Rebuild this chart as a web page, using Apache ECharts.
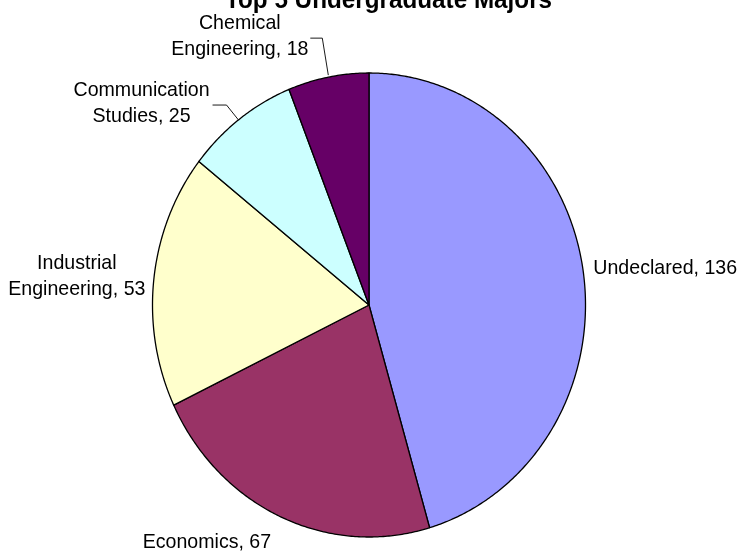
<!DOCTYPE html>
<html><head><meta charset="utf-8">
<script src="https://cdn.jsdelivr.net/npm/echarts@6/dist/echarts.min.js"></script>
<style>html,body{margin:0;padding:0;background:#fff}#c{width:739px;height:554px}</style>
</head><body><div id="c"></div>
<script>
// ---- data ----
const categories = ['Undeclared', 'Economics', 'Industrial Engineering', 'Communication Studies', 'Chemical Engineering'];
const values = [136, 67, 53, 25, 18];
const chartTitle = 'Top 5 Undergraduate Majors';

// ---- styles / layout ----
const sliceColors = ['#9999FF', '#993366', '#FFFFCC', '#CCFFFF', '#660066'];
const pieGeom = { cx: 369, cy: 305, rx: 216.5, ry: 232 };
const SX = 0.933; // horizontal squeeze of the original picture
// label placement relative to the slice's mid-point on the rim
const labelPlace = [
  { align: 'left',   dx: 10,   dy: -4 },
  { align: 'left',   dx: -138, dy: 25 },
  { align: 'center', dx: -77,  dy: -3 },
  { align: 'center', dx: -98,  dy: -15.5, leader: [[-27, -14], [-13, -14], [-1, 1]] },
  { align: 'center', dx: -88.5,dy: -41, leader: [[-18, -39], [-6, -39], [0, -2]] }
];
const FONT = '"Liberation Sans", Arial, sans-serif';

const total = values.reduce((a, b) => a + b, 0);
const cumStart = values.map((v, i) => values.slice(0, i).reduce((a, b) => a + b, 0));

function rim(t) {
  return [pieGeom.cx + pieGeom.rx * Math.sin(t), pieGeom.cy - pieGeom.ry * Math.cos(t)];
}

function renderItem(params, api) {
  const i = params.dataIndex;
  const v = api.value(0);
  const a0 = cumStart[i] / total * Math.PI * 2;
  const a1 = (cumStart[i] + v) / total * Math.PI * 2;
  const n = Math.max(2, Math.ceil((a1 - a0) / (Math.PI / 360)));
  const pts = [[pieGeom.cx, pieGeom.cy]];
  for (let k = 0; k <= n; k++) pts.push(rim(a0 + (a1 - a0) * k / n));
  const mid = rim((a0 + a1) / 2);
  const lp = labelPlace[i];
  const txt = categories[i].replace(' ', '\n') + ', ' + v;
  const children = [
    { type: 'polygon', shape: { points: pts },
      style: { fill: sliceColors[i], stroke: '#000', lineWidth: 1.3, lineJoin: 'round' } },
    { type: 'text', x: mid[0] + lp.dx, y: mid[1] + lp.dy, scaleX: SX, z2: 10,
      style: { text: txt, fill: '#000', fontSize: 21, fontFamily: FONT,
               align: lp.align, verticalAlign: 'middle', lineHeight: 26 } }
  ];
  if (lp.leader) {
    children.push({ type: 'polyline', z2: 10,
      shape: { points: lp.leader.map(p => [mid[0] + p[0], mid[1] + p[1]]) },
      style: { stroke: '#000', lineWidth: 0.9, fill: null } });
  }
  return { type: 'group', children };
}

const chart = echarts.init(document.getElementById('c'), null, { renderer: 'canvas' });
chart.setOption({
  animation: false,
  backgroundColor: '#fff',
  graphic: [{
    type: 'text', x: 225, y: 1, scaleX: SX, z: 20,
    style: { text: chartTitle, fill: '#000', fontSize: 26, fontWeight: 'bold', fontFamily: FONT,
             align: 'left', verticalAlign: 'middle' }
  }],
  series: [{
    type: 'custom',
    coordinateSystem: 'none',
    renderItem: renderItem,
    data: values.map((v, i) => ({ value: [v], name: categories[i] }))
  }]
});
</script>
</body></html>
